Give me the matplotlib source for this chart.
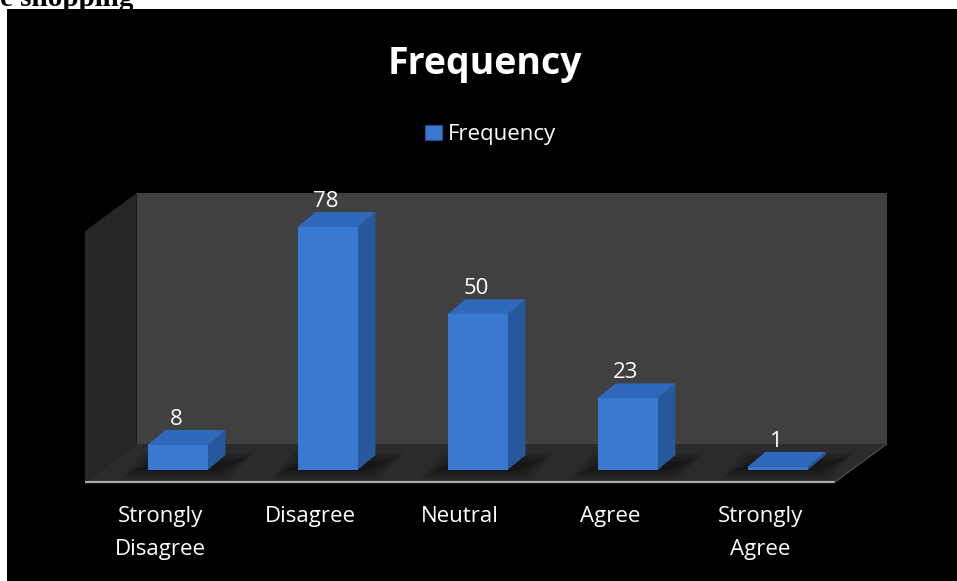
import matplotlib
matplotlib.use("Agg")
import matplotlib.pyplot as plt
from matplotlib.patches import Polygon, Rectangle

# Survey responses
categories = ["Strongly\nDisagree", "Disagree", "Neutral", "Agree", "Strongly\nAgree"]
frequency = [8, 78, 50, 23, 1]
series_name = "Frequency"
chart_title = "Frequency"
heading_tail = "e shopping"

W, H = 957, 581
fig = plt.figure(figsize=(W / 100, H / 100), dpi=100, facecolor="white")

# black chart panel below the heading line
fig.text(0.0, 1 - 6 / H, heading_tail, fontsize=21, fontweight="bold",
         family="Liberation Serif", ha="left", va="baseline", color="black")
fig.patches.append(Rectangle((7 / W, 0), 1 - 7 / W, 1 - 9 / H, transform=fig.transFigure,
                             facecolor="black", edgecolor="none", zorder=1))

ax = fig.add_axes([0, 0, 1, 1])
ax.set_zorder(2)
ax.patch.set_alpha(0)
# one category slot = 150 px, one count = 3.115 px
ax.set_xlim(-177.5 / 150, (W - 177.5) / 150)
ax.set_ylim((470 - H) / 3.115, 470 / 3.115)
ax.axis("off")

n = len(categories)
bar_w = 0.4
# oblique projection of the depth axis
bar_dx, bar_dy = 0.12, 4.8
floor_front_x, floor_front_y = -0.117, -3.85
floor_dx, floor_dy = 0.345, 12.2
wall_top = 88.9

x0 = -0.5 + floor_front_x
x1 = n - 0.5 + floor_front_x
# back wall
ax.add_patch(Polygon([(x0 + floor_dx, floor_front_y + floor_dy), (x1 + floor_dx, floor_front_y + floor_dy),
                      (x1 + floor_dx, wall_top), (x0 + floor_dx, wall_top)],
                     closed=True, facecolor="#404040", edgecolor="none", zorder=1))
# left side wall
ax.add_patch(Polygon([(x0, floor_front_y), (x0 + floor_dx, floor_front_y + floor_dy),
                      (x0 + floor_dx, wall_top), (x0, wall_top - floor_dy)],
                     closed=True, facecolor="#262626", edgecolor="none", zorder=1))
# floor
ax.add_patch(Polygon([(x0, floor_front_y), (x1, floor_front_y),
                      (x1 + floor_dx, floor_front_y + floor_dy), (x0 + floor_dx, floor_front_y + floor_dy)],
                     closed=True, facecolor="#2b2b2b", edgecolor="none", zorder=1))
ax.plot([x0, x1], [floor_front_y, floor_front_y], color="#a9a9a9", lw=1.6,
        solid_capstyle="butt", zorder=2)
ax.plot([x1, x1 + floor_dx], [floor_front_y, floor_front_y + floor_dy], color="#555555", lw=0.8, zorder=2)

front_c, top_c, side_c = "#3a79d0", "#3069bb", "#28589c"
for i, v in enumerate(frequency):
    l, r = i - bar_w / 2, i + bar_w / 2
    # soft shadow on the floor
    for k, a in zip(range(4), [0.10, 0.12, 0.14, 0.18]):
        g = (3 - k) * 0.03
        gy = (3 - k) * 0.9
        ax.add_patch(Polygon([(l - 0.09 - g, -0.3 - gy), (r + 0.06 + g, -0.3 - gy),
                              (r + bar_dx + 0.1 + g, bar_dy * 0.6 + gy), (l + bar_dx - 0.06 - g, bar_dy * 0.6 + gy)],
                             closed=True, facecolor="black", alpha=a, edgecolor="none", zorder=3))
    # side face
    ax.add_patch(Polygon([(r, 0), (r + bar_dx, bar_dy), (r + bar_dx, v + bar_dy), (r, v)],
                         closed=True, facecolor=side_c, edgecolor="none", zorder=4))
    # top face
    ax.add_patch(Polygon([(l, v), (r, v), (r + bar_dx, v + bar_dy), (l + bar_dx, v + bar_dy)],
                         closed=True, facecolor=top_c, edgecolor="none", zorder=4))
    # front face
    ax.add_patch(Polygon([(l, 0), (r, 0), (r, v), (l, v)],
                         closed=True, facecolor=front_c, edgecolor="none", zorder=5))
    ax.text(i - 0.01, v + 6.4, str(v), ha="center", va="baseline", color="white",
            fontsize=16, family="Open Sans", zorder=6)

for i, lab in enumerate(categories):
    ax.text(i + floor_front_x, (470 - 506) / 3.115, lab, ha="center", va="top", color="white",
            fontsize=16, family="Open Sans", linespacing=1.75, zorder=6)

fig.text(485 / W, 1 - 74 / H, chart_title, ha="center", va="baseline", color="white",
         fontsize=27, fontweight="bold", family="Open Sans", zorder=6)
fig.patches.append(Rectangle((425 / W, 1 - 140 / H), 17 / W, 15 / H, transform=fig.transFigure,
                             facecolor=front_c, edgecolor="#1e4f8f", lw=0.8, zorder=6))
fig.text(448 / W, 1 - 140 / H, series_name, ha="left", va="baseline", color="white",
         fontsize=16, family="Open Sans", zorder=6)

fig.savefig("out.png", dpi=100, facecolor="white")
